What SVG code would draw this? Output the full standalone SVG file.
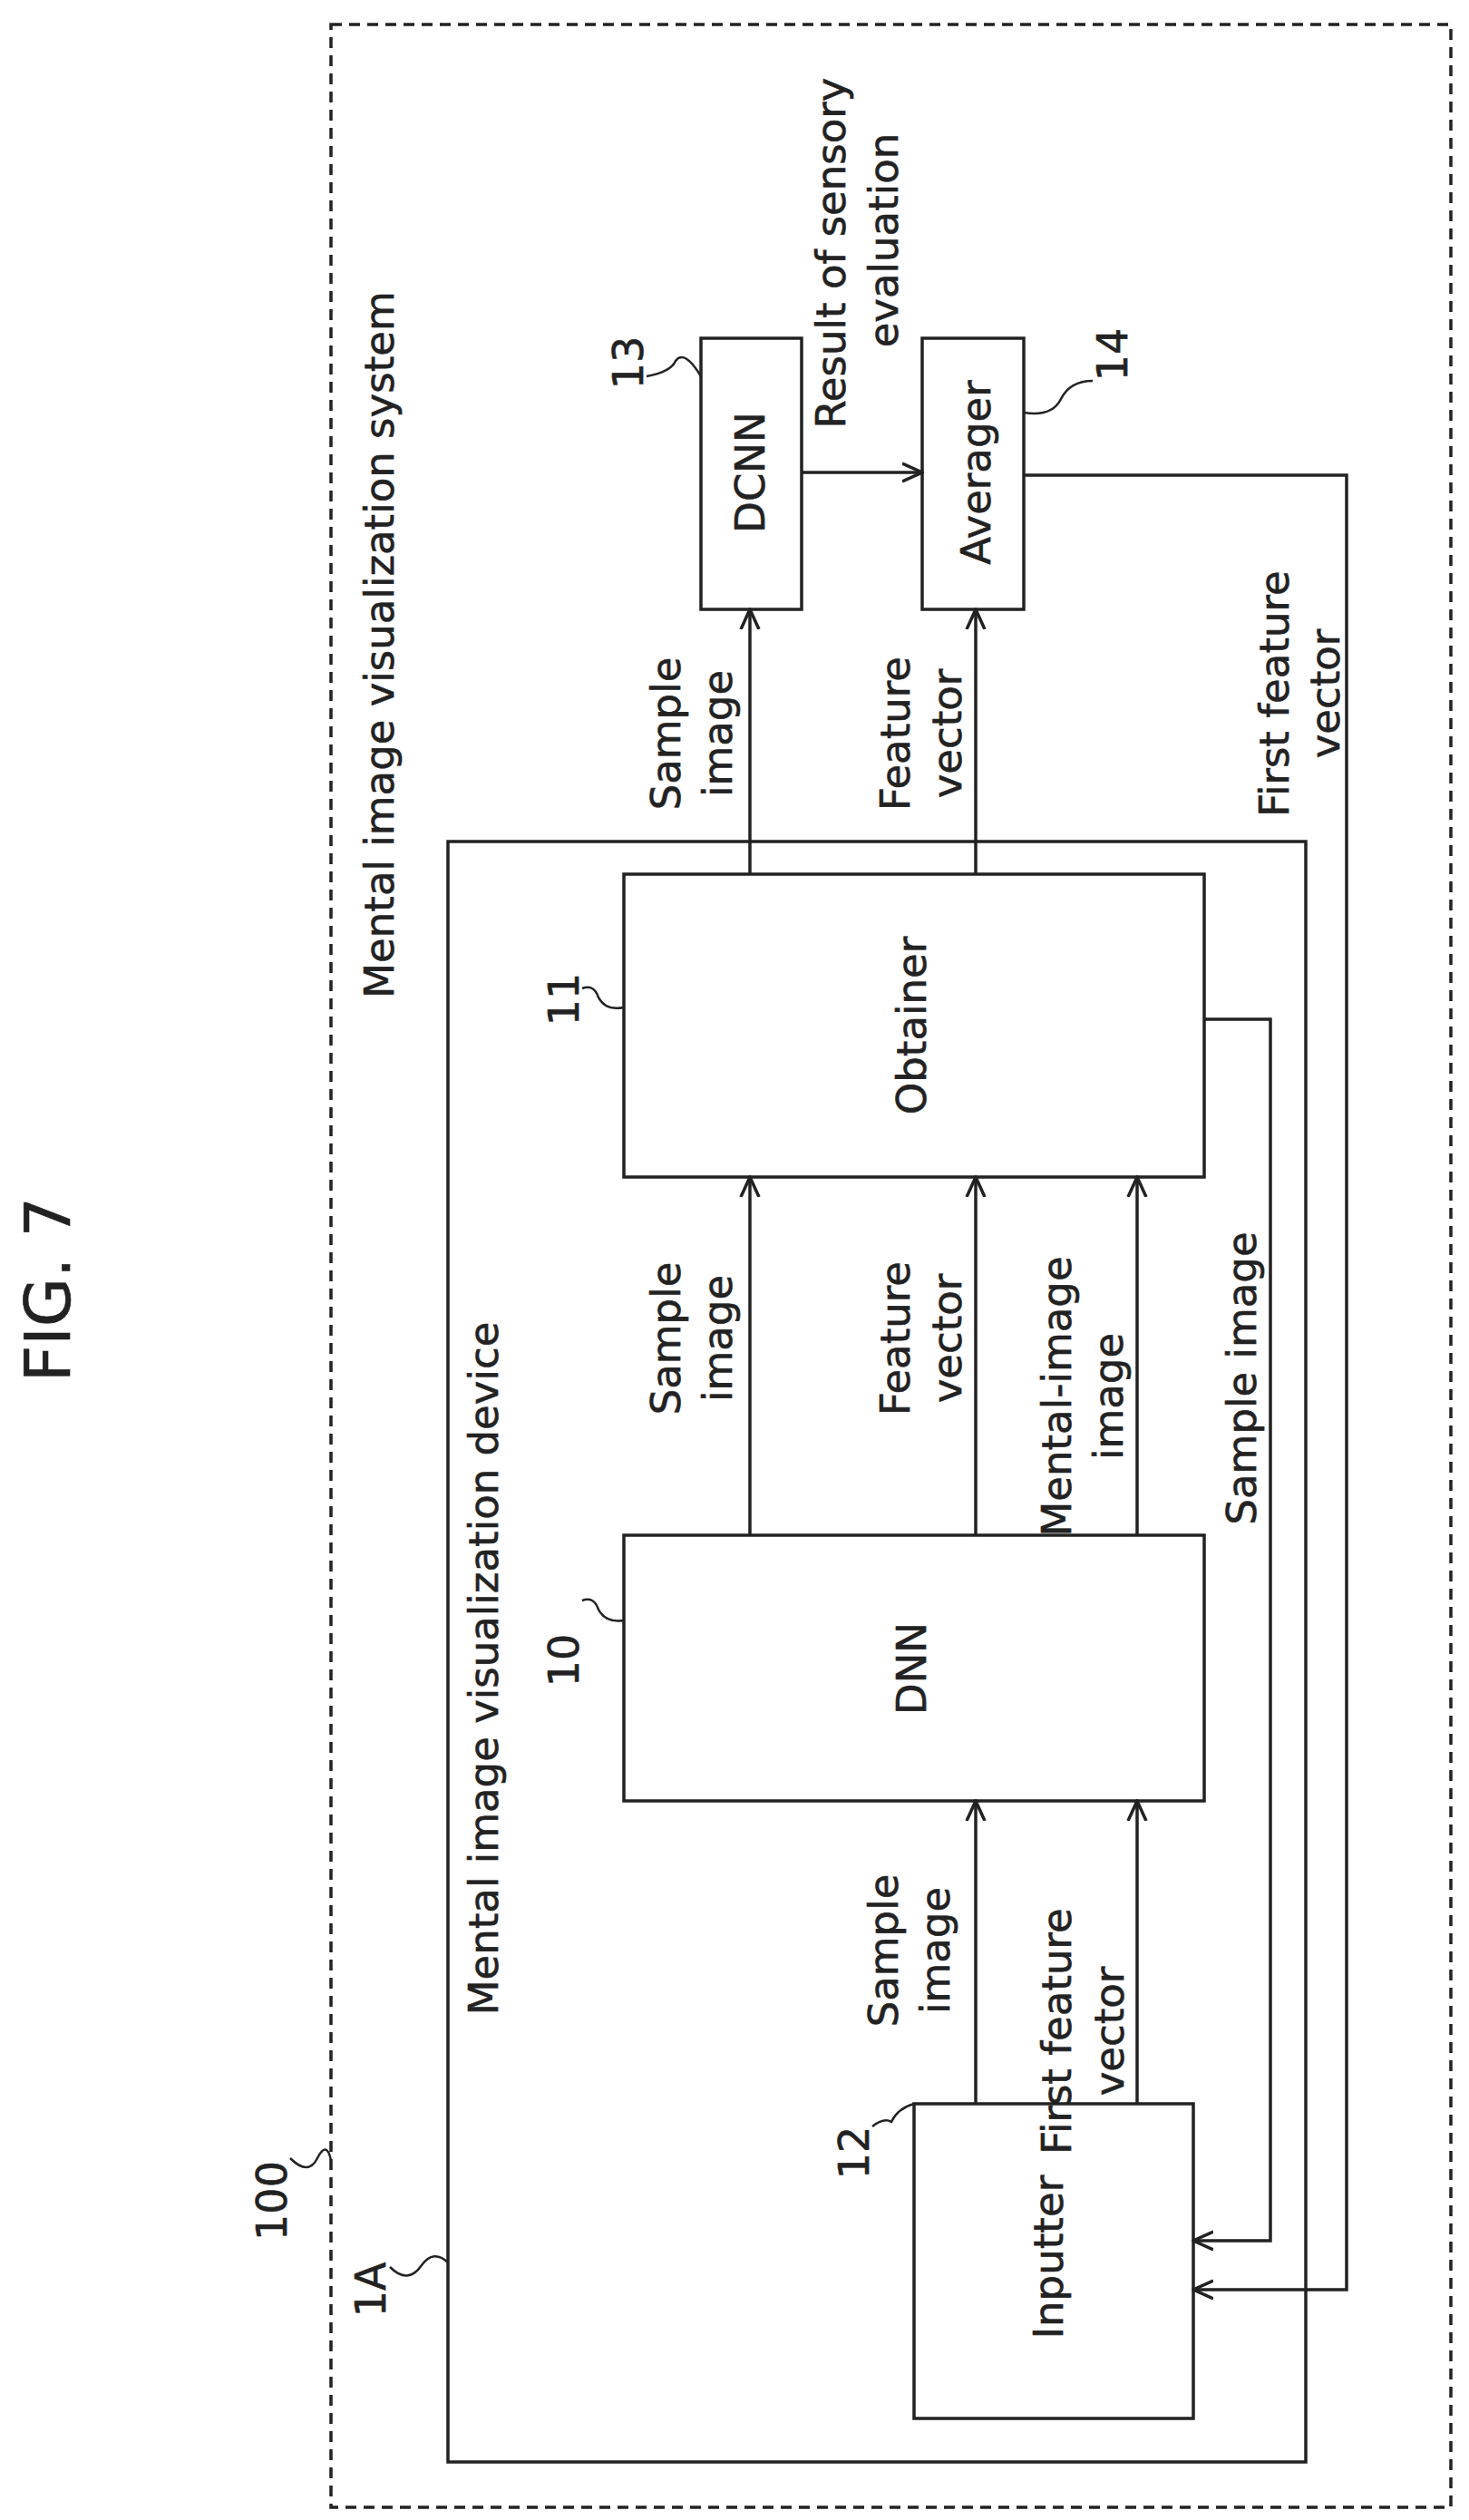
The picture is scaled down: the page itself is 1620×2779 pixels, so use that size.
<svg xmlns="http://www.w3.org/2000/svg" width="1620" height="2779" viewBox="0 0 1620 2779">
<style>
.b{fill:none;stroke:#222;stroke-width:3.5}
.d{fill:none;stroke:#222;stroke-width:3.5;stroke-dasharray:12,8}
.c{fill:none;stroke:#222;stroke-width:3.5;marker-end:url(#m)}
.l{fill:none;stroke:#222;stroke-width:2.5}
text{font-family:"DejaVu Sans",sans-serif;font-size:45px;fill:#222;text-anchor:middle;dominant-baseline:central;stroke:#222;stroke-width:0.6}
</style>
<defs>
<marker id="m" viewBox="0 0 24 24" markerWidth="24" markerHeight="24" refX="22" refY="12" orient="auto" markerUnits="userSpaceOnUse"><path d="M0,2 L22,12 L0,22" fill="none" stroke="#222" stroke-width="3.5"/></marker></defs>
<text transform="translate(53,1422) rotate(-90)" style="font-size:70px">FIG. 7</text>
<g id="n100"><rect class="d" x="365" y="27" width="1235" height="2738"/>
<text transform="translate(418,711) rotate(-90)">Mental image visualization system</text>
<text transform="translate(300,2427) rotate(-90)" style="font-size:46px">100</text>
<path class="l" d="M320,2380 Q340,2400 350,2380 Q360,2360 365,2382"/></g>
<g id="n1A"><rect class="b" x="494" y="928" width="946" height="1787"/>
<text transform="translate(533,1840) rotate(-90)">Mental image visualization device</text>
<text transform="translate(409,2525) rotate(-90)" style="font-size:46px">1A</text>
<path class="l" d="M430,2500 Q450,2520 465,2498 Q478,2480 494,2495"/></g>
<g id="n13"><rect class="b" x="773" y="373" width="111" height="299"/><text transform="translate(827,521) rotate(-90)">DCNN</text>
<text transform="translate(693,400) rotate(-90)" style="font-size:46px">13</text><path class="l" d="M713,415 Q740,410 745,398 Q755,385 773,415"/></g>
<g id="n14"><rect class="b" x="1017" y="373" width="112" height="299"/><text transform="translate(1076,521) rotate(-90)">Averager</text>
<text transform="translate(1227,391) rotate(-90)" style="font-size:46px">14</text><path class="l" d="M1129,455 Q1160,460 1170,440 Q1180,420 1205,420"/></g>
<g id="n11"><rect class="b" x="688" y="964" width="640" height="334"/><text transform="translate(1005,1131) rotate(-90)">Obtainer</text>
<text transform="translate(622,1102) rotate(-90)" style="font-size:46px">11</text><path class="l" d="M642,1090 Q655,1085 660,1100 Q668,1115 688,1111"/></g>
<g id="n10"><rect class="b" x="688" y="1693" width="640" height="293"/><text transform="translate(1005,1840) rotate(-90)">DNN</text>
<text transform="translate(622,1831) rotate(-90)" style="font-size:46px">10</text><path class="l" d="M642,1765 Q655,1760 660,1775 Q668,1790 688,1787"/></g>
<g id="n12"><rect class="b" x="1008" y="2320" width="308" height="347"/><text transform="translate(1156,2489) rotate(-90)">Inputter</text>
<text transform="translate(942,2374) rotate(-90)" style="font-size:46px">12</text><path class="l" d="M962,2345 Q975,2335 983,2340 Q990,2325 1008,2320"/></g>
<g id="connectors">
<path class="c" d="M1076,2320 V1986"/><path class="c" d="M1254,2320 V1986"/>
<path class="c" d="M827,1693 V1298"/><path class="c" d="M1076,1693 V1298"/><path class="c" d="M1254,1693 V1298"/>
<path class="c" d="M827,964 V672"/><path class="c" d="M1076,964 V672"/>
<path class="c" d="M884,521 H1017"/>
<path class="c" d="M1328,1124 H1401 V2471 H1316"/>
<path class="c" d="M1129,524 H1485 V2525 H1316"/>
</g>
<g id="labels">
<text transform="translate(734,1476) rotate(-90)">Sample</text><text transform="translate(791,1476) rotate(-90)">image</text>
<text transform="translate(987,1476) rotate(-90)">Feature</text><text transform="translate(1044,1476) rotate(-90)">vector</text>
<text transform="translate(1165,1540) rotate(-90)">Mental-image</text><text transform="translate(1222,1540) rotate(-90)">image</text>
<text transform="translate(1369,1520) rotate(-90)">Sample image</text>
<text transform="translate(974,2151) rotate(-90)">Sample</text><text transform="translate(1031,2151) rotate(-90)">image</text>
<text transform="translate(1165,2240) rotate(-90)">First feature</text><text transform="translate(1223,2240) rotate(-90)">vector</text>
<text transform="translate(734,809) rotate(-90)">Sample</text><text transform="translate(791,809) rotate(-90)">image</text>
<text transform="translate(987,809) rotate(-90)">Feature</text><text transform="translate(1044,809) rotate(-90)">vector</text>
<text transform="translate(916,279) rotate(-90)">Result of sensory</text><text transform="translate(974,265) rotate(-90)">evaluation</text>
<text transform="translate(1405,765) rotate(-90)">First feature</text><text transform="translate(1461,765) rotate(-90)">vector</text>
</g>
</svg>
